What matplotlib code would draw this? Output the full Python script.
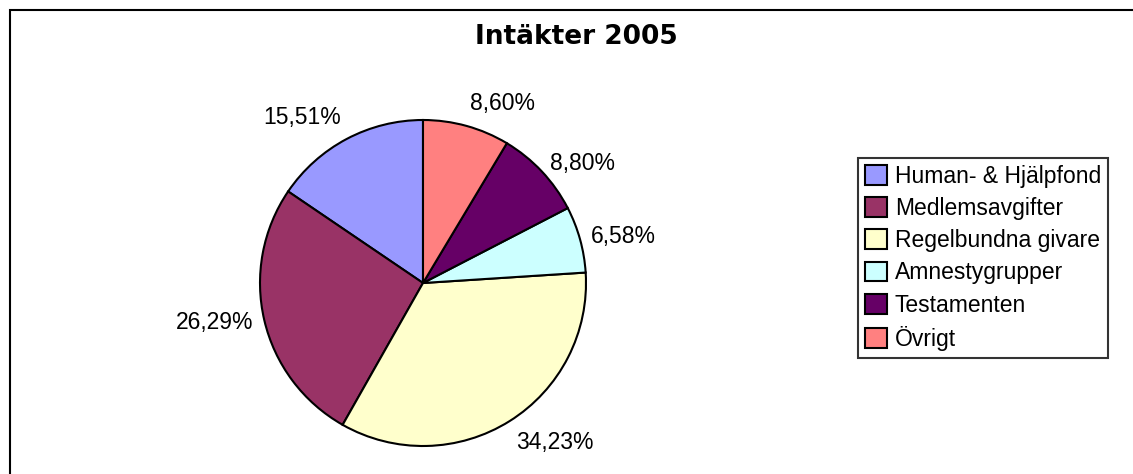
import numpy as np
import matplotlib
matplotlib.use("Agg")
import matplotlib.pyplot as plt
from matplotlib.patches import Rectangle

# data
categories = ["Human- & Hjälpfond", "Medlemsavgifter", "Regelbundna givare",
              "Amnestygrupper", "Testamenten", "Övrigt"]
shares = [15.51, 26.29, 34.23, 6.58, 8.80, 8.60]
colors = ["#9999FF", "#993366", "#FFFFCC", "#CCFFFF", "#660066", "#FF8080"]
title = "Intäkter 2005"

W, H = 1133, 474
fig = plt.figure(figsize=(W / 100, H / 100), dpi=100)
fig.patch.set_facecolor("white")

# outer chart frame (cut off at right and bottom like the reference)
top = 1 - 10.5 / H
fig.add_artist(Rectangle((10.5 / W, -0.2), 1.2, top + 0.2,
                         transform=fig.transFigure, fill=False,
                         edgecolor="black", linewidth=1.5))

cx, cy, r = 423, 283, 163
ax = fig.add_axes([(cx - r) / W, (H - cy - r) / H, 2 * r / W, 2 * r / H])
wedges, _ = ax.pie(shares, colors=colors, startangle=90, counterclock=True,
                   radius=1.0,
                   wedgeprops=dict(edgecolor="black", linewidth=1.5))
ax.set_xlim(-1, 1)
ax.set_ylim(-1, 1)
ax.set_aspect("auto")
ax.axis("off")

for w, v in zip(wedges, shares):
    mid = np.deg2rad((w.theta1 + w.theta2) / 2)
    c, s = np.cos(mid), np.sin(mid)
    ha = "left" if c > 0.1 else ("right" if c < -0.1 else "center")
    va = "bottom" if s > 0.7 else ("top" if s < -0.7 else "center")
    ax.text(1.07 * c, 1.07 * s, f"{v:.2f}%".replace(".", ","), ha=ha, va=va,
            fontsize=16.5, family="Liberation Sans", clip_on=False)

fig.text(576 / W, 1 - 37 / H, title, ha="center", va="center",
         fontsize=19, fontweight="bold", family="DejaVu Sans")

leg = fig.legend(wedges, categories, loc="upper left",
                 bbox_to_anchor=(858 / W, 1 - 158 / H),
                 frameon=True, fancybox=False, edgecolor="black",
                 prop={"family": "Liberation Sans", "size": 16.5},
                 handlelength=0.95, handleheight=0.95, handletextpad=0.35,
                 labelspacing=0.4, borderpad=0.3, borderaxespad=0)
leg.get_frame().set_linewidth(1.5)
for p in leg.get_patches():
    p.set_linewidth(1.5)

fig.savefig("out.png", dpi=100, facecolor="white")
